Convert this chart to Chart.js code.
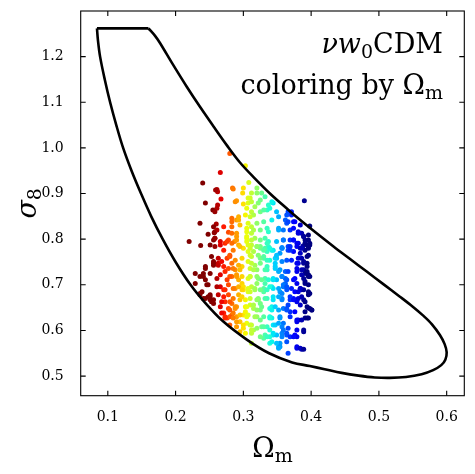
<!DOCTYPE html>
<html>
<head>
<meta charset="utf-8">
<script src="https://cdn.jsdelivr.net/npm/chart.js@4.4.1/dist/chart.umd.min.js"></script>
<style>
  html, body { margin: 0; padding: 0; background: #fff; }
  #wrap { width: 475px; height: 474px; position: relative; }
</style>
</head>
<body>
<div id="wrap"><canvas id="omegaChart"></canvas></div>
<script>
// samples
var omegaM = [
  0.280,0.303,0.266,0.240,0.261,0.262,0.308,0.300,0.284,0.312,
  0.267,0.244,0.290,0.300,0.305,0.262,0.261,0.255,0.258,0.312,
  0.303,0.293,0.315,0.236,0.260,0.256,0.271,0.283,0.290,0.295,
  0.283,0.307,0.312,0.248,0.258,0.278,0.290,0.305,0.312,0.220,
  0.258,0.266,0.278,0.273,0.287,0.293,0.237,0.251,0.258,0.305,
  0.312,0.320,0.327,0.332,0.310,0.307,0.322,0.317,0.325,0.335,
  0.339,0.344,0.390,0.366,0.371,0.352,0.342,0.362,0.364,0.374,
  0.398,0.320,0.330,0.325,0.337,0.352,0.369,0.381,0.386,0.396,
  0.317,0.332,0.359,0.374,0.391,0.325,0.337,0.357,0.366,0.379,
  0.388,
  0.229,0.241,0.244,0.256,0.263,0.261,0.276,0.283,0.278,0.288,
  0.290,0.293,0.283,0.266,0.271,0.278,0.288,0.298,0.236,0.248,
  0.253,0.263,0.278,0.293,0.300,0.273,0.283,0.295,0.303,0.278,
  0.288,0.303,0.310,0.283,0.290,0.300,0.305,0.295,0.312,0.312,
  0.300,0.307,0.307,0.312,
  0.315,0.325,0.335,0.344,0.357,0.369,0.384,0.396,0.330,0.339,
  0.349,0.371,0.381,0.394,0.317,0.335,0.347,0.362,0.379,0.389,
  0.320,0.332,0.344,0.357,0.364,0.376,0.391,0.317,0.330,0.342,
  0.352,0.359,0.371,0.384,0.396,0.322,0.335,0.344,0.357,0.374,
  0.384,0.398,0.315,0.327,0.342,0.359,0.369,0.320,0.339,0.354,
  0.379,0.327,0.344,0.359,0.332,0.344,0.357,0.376,0.364,0.379,
  0.386,0.339,
  0.396,0.398,0.391,0.396,0.389,0.394,0.391,0.396,0.391,0.396,
  0.386,0.398,0.389,0.394,0.401,0.391,0.396,0.389,0.352,0.366,
  0.315,0.330,0.248,0.239,0.251,0.256,0.271,0.276,0.285,
  0.285,0.299,0.320,0.259,0.288,0.307,0.312,0.325,0.337,0.342,
  0.330,0.349,0.364,0.371,0.366,0.376,0.374,0.384,0.310,0.293,
  0.283,0.261,0.305,0.315,0.335,0.352,0.359,0.389,0.391,0.396,
  0.381,0.369,0.349,0.337,0.325,0.312,0.305,0.290,0.283,0.256,
  0.271,0.285,0.295,0.310,0.320,0.332,0.342,0.354,0.366,0.374,
  0.384,0.386,0.394,0.381,0.364,0.357,0.347,0.335,0.325,0.312,
  0.307,0.298,0.288,0.280,0.263,0.253,0.244,0.256,0.271,0.285,
  0.298,0.310,0.320,0.335,0.354,0.366,0.379,0.386,0.398,0.374,
  0.362,0.349,0.337,0.322,0.310,0.298,0.280,0.266,0.251,0.236,
  0.229,0.246,0.261,0.273,0.300,0.307,0.317,0.330,0.344,0.354,
  0.364,0.376,0.389,0.396,0.381,0.369,0.357,0.344,0.332,0.322,
  0.310,0.298,0.285,0.271,0.251,0.236,0.244,0.256,0.266,0.290,
  0.315,0.325,0.339,0.352,0.364,0.376,0.391,0.381,0.369,0.354,
  0.342,0.330,0.317,0.305,0.295,0.280,0.273,0.280,0.290,0.300,
  0.310,0.320,0.335,0.347,0.357,0.366,0.379,0.379,0.364,0.349,
  0.339,0.325,0.312,0.303,0.295,0.342,0.354,
  0.257,0.258,0.266,0.276,0.283,0.290,0.241,0.244,0.256,0.263,
  0.268,0.280,0.293,0.295,0.290,0.273,0.276,0.285,0.293,0.298,
  0.241,0.251,0.268,0.280,0.280,0.288,0.268,0.273,0.285,0.290,
  0.300,0.305,0.307,0.303,0.310,0.307,0.312,0.320,0.325,0.320,
  0.325,0.330,0.335,0.339,0.344,0.339,0.342,0.347,0.352,0.359,
  0.357,0.349,0.354,0.352,0.364,0.369,0.374,0.379,0.384,0.389,
  0.379,0.386,0.394,0.389,0.369,0.374,0.379,0.386,0.391,0.396,
  0.401,0.364,0.366,0.352,0.357,0.335,0.339,0.332,0.325,0.327,
  0.320,0.310,0.315,0.312,0.325,0.330,0.332,0.347,0.352,0.344,
  0.357,0.362,0.359,0.364,0.379,0.384,0.381,0.379,0.389,0.386,
  0.394,0.396,0.389,0.379,0.386,0.394,0.398,0.389,0.381,0.369,
  0.374,0.359,0.357,0.349,0.347,0.335,0.339,0.330,0.320,0.322,
  0.310,0.305,0.307
];
var sigma8 = [
  0.988,0.961,0.946,0.923,0.909,0.904,0.924,0.912,0.912,0.901,
  0.888,0.879,0.884,0.877,0.868,0.875,0.868,0.864,0.860,0.860,
  0.853,0.849,0.853,0.835,0.833,0.827,0.827,0.838,0.842,0.831,
  0.827,0.835,0.827,0.811,0.816,0.815,0.813,0.816,0.813,0.795,
  0.802,0.795,0.798,0.791,0.795,0.787,0.786,0.787,0.784,0.795,
  0.787,0.912,0.901,0.893,0.890,0.879,0.879,0.871,0.860,0.864,
  0.868,0.879,0.884,0.860,0.853,0.849,0.842,0.842,0.835,0.838,
  0.829,0.835,0.838,0.820,0.816,0.820,0.820,0.816,0.813,0.809,
  0.802,0.802,0.798,0.798,0.798,0.784,0.784,0.782,0.784,0.784,
  0.785,
  0.725,0.718,0.736,0.751,0.747,0.714,0.758,0.747,0.736,0.733,
  0.722,0.711,0.718,0.696,0.689,0.700,0.692,0.703,0.678,0.674,
  0.663,0.678,0.678,0.678,0.689,0.663,0.659,0.667,0.667,0.648,
  0.648,0.652,0.656,0.634,0.630,0.634,0.616,0.619,0.612,0.572,
  0.780,0.773,0.714,0.696,
  0.773,0.780,0.773,0.776,0.780,0.784,0.780,0.784,0.758,0.754,
  0.758,0.754,0.758,0.762,0.743,0.740,0.736,0.729,0.736,0.733,
  0.718,0.714,0.714,0.718,0.711,0.714,0.707,0.692,0.692,0.696,
  0.692,0.696,0.692,0.692,0.685,0.670,0.670,0.674,0.670,0.670,
  0.656,0.648,0.656,0.652,0.652,0.648,0.641,0.630,0.630,0.630,
  0.619,0.608,0.612,0.616,0.590,0.590,0.594,0.590,0.575,0.561,
  0.559,0.572,
  0.798,0.787,0.776,0.765,0.747,0.740,0.725,0.722,0.703,0.700,
  0.689,0.681,0.667,0.652,0.645,0.627,0.627,0.597,0.564,0.550,
  0.601,0.583,0.700,0.685,0.678,0.667,0.638,0.627,0.638,
  0.910,0.901,0.901,0.908,0.882,0.890,0.882,0.886,0.875,0.882,
  0.864,0.860,0.853,0.860,0.838,0.838,0.824,0.831,0.849,0.842,
  0.846,0.820,0.824,0.820,0.824,0.824,0.820,0.806,0.791,0.780,
  0.791,0.798,0.795,0.795,0.798,0.798,0.802,0.798,0.791,0.798,
  0.776,0.776,0.784,0.780,0.784,0.780,0.776,0.769,0.776,0.773,
  0.769,0.758,0.747,0.747,0.754,0.751,0.758,0.754,0.758,0.762,
  0.751,0.758,0.754,0.765,0.758,0.762,0.740,0.743,0.740,0.736,
  0.740,0.736,0.733,0.733,0.733,0.729,0.729,0.722,0.718,0.711,
  0.714,0.711,0.711,0.714,0.718,0.718,0.718,0.722,0.725,0.718,
  0.703,0.700,0.696,0.689,0.696,0.685,0.689,0.685,0.692,0.685,
  0.689,0.685,0.689,0.678,0.670,0.667,0.667,0.667,0.670,0.667,
  0.670,0.674,0.670,0.674,0.674,0.681,0.670,0.659,0.652,0.652,
  0.648,0.645,0.648,0.645,0.648,0.641,0.641,0.623,0.630,0.627,
  0.627,0.630,0.630,0.630,0.634,0.630,0.627,0.612,0.608,0.605,
  0.612,0.605,0.608,0.612,0.608,0.605,0.601,0.586,0.590,0.590,
  0.586,0.586,0.594,0.594,0.597,0.575,0.572,
  0.814,0.802,0.787,0.795,0.813,0.806,0.725,0.711,0.747,0.743,
  0.751,0.762,0.743,0.733,0.718,0.729,0.711,0.692,0.696,0.689,
  0.670,0.667,0.663,0.663,0.645,0.652,0.638,0.630,0.627,0.619,
  0.612,0.652,0.634,0.641,0.685,0.692,0.601,0.667,0.659,0.645,
  0.623,0.608,0.586,0.601,0.594,0.627,0.645,0.652,0.616,0.601,
  0.586,0.572,0.564,0.561,0.594,0.586,0.586,0.564,0.561,0.559,
  0.623,0.623,0.627,0.601,0.674,0.667,0.663,0.674,0.663,0.649,
  0.645,0.645,0.656,0.674,0.681,0.689,0.696,0.703,0.689,0.711,
  0.703,0.718,0.733,0.747,0.747,0.762,0.733,0.740,0.729,0.711,
  0.718,0.703,0.700,0.696,0.703,0.692,0.685,0.747,0.751,0.733,
  0.729,0.718,0.714,0.791,0.780,0.787,0.791,0.806,0.813,0.776,
  0.798,0.798,0.780,0.765,0.747,0.791,0.780,0.776,0.784,0.765,
  0.765,0.806,0.787
];

// confidence contour: flat top edge, then the curved outline clockwise
var topEdgeOmegaM = [0.084, 0.160];
var topEdgeSigma8 = [1.262, 1.262];
var contourOmegaM = [
  0.160,0.170,0.177,0.196,0.2165,0.236,0.256,0.276,0.295,0.315,
  0.340,0.365,0.379,0.398,0.433,0.457,0.482,0.507,0.531,0.550,
  0.565,0.578,0.590,0.597,0.600,0.598,0.592,0.580,0.563,0.540,
  0.516,0.494,0.470,0.445,0.420,0.398,0.372,0.338,0.305,0.270,
  0.244,0.222,0.200,0.181,0.164,0.149,0.135,0.1226,0.1125,0.1034,
  0.0955,0.0886,0.0855,0.084
];
var contourSigma8 = [
  1.262,1.245,1.230,1.183,1.134,1.090,1.047,1.005,0.968,0.936,
  0.899,0.866,0.848,0.825,0.784,0.757,0.729,0.701,0.674,0.652,
  0.633,0.614,0.590,0.570,0.552,0.536,0.524,0.513,0.504,0.498,
  0.496,0.497,0.501,0.507,0.515,0.522,0.530,0.550,0.580,0.620,
  0.660,0.700,0.750,0.800,0.850,0.900,0.950,1.000,1.050,1.100,
  1.150,1.200,1.235,1.262
];

var xTicks = [0.1, 0.2, 0.3, 0.4, 0.5, 0.6];
var yTicks = [0.5, 0.6, 0.7, 0.8, 0.9, 1.0, 1.1, 1.2];

var colorMin = 0.255, colorMax = 0.392;

// matplotlib jet, reversed
function jetR(v) {
  var t = 1 - Math.min(1, Math.max(0, (v - colorMin) / (colorMax - colorMin)));
  function seg(pts) {
    for (var i = 1; i < pts.length; i++) {
      if (t <= pts[i][0]) {
        var a = pts[i - 1], b = pts[i];
        return a[1] + (b[1] - a[1]) * (t - a[0]) / (b[0] - a[0]);
      }
    }
    return pts[pts.length - 1][1];
  }
  var r = seg([[0,0],[0.35,0],[0.66,1],[0.89,1],[1,0.5]]);
  var g = seg([[0,0],[0.125,0],[0.375,1],[0.64,1],[0.91,0],[1,0]]);
  var b = seg([[0,0.5],[0.11,1],[0.34,1],[0.65,0],[1,0]]);
  return 'rgb(' + Math.round(r * 255) + ',' + Math.round(g * 255) + ',' + Math.round(b * 255) + ')';
}

function pairs(xs, ys) {
  return xs.map(function (v, i) { return { x: v, y: ys[i] }; });
}

var serif = "'DejaVu Serif', serif";

// frame, inward ticks, axis titles and the note in the corner
var decorations = {
  id: 'decorations',
  afterDraw: function (chart) {
    var ctx = chart.ctx, a = chart.chartArea;
    var xs = chart.scales.x, ys = chart.scales.y;
    ctx.save();
    ctx.strokeStyle = '#000';
    ctx.lineWidth = 1.1;
    ctx.strokeRect(a.left, a.top, a.right - a.left, a.bottom - a.top);
    ctx.beginPath();
    xTicks.forEach(function (v) {
      var p = xs.getPixelForValue(v);
      ctx.moveTo(p, a.bottom); ctx.lineTo(p, a.bottom - 5);
      ctx.moveTo(p, a.top); ctx.lineTo(p, a.top + 5);
    });
    yTicks.forEach(function (v) {
      var p = ys.getPixelForValue(v);
      ctx.moveTo(a.left, p); ctx.lineTo(a.left + 5, p);
      ctx.moveTo(a.right, p); ctx.lineTo(a.right - 5, p);
    });
    ctx.stroke();

    ctx.fillStyle = '#000';
    ctx.textBaseline = 'alphabetic';

    // x title: Omega_m
    var big = '27px ' + serif, sub = '19px ' + serif;
    ctx.font = big;
    var wO = ctx.measureText('\u03A9').width;
    ctx.font = sub;
    var wm = ctx.measureText('m').width;
    var x0 = (a.left + a.right) / 2 - (wO + wm) / 2;
    ctx.font = big;
    ctx.fillText('\u03A9', x0, 457);
    ctx.font = sub;
    ctx.fillText('m', x0 + wO, 462);

    // y title: sigma_8
    ctx.save();
    ctx.translate(36, (a.top + a.bottom) / 2);
    ctx.rotate(-Math.PI / 2);
    ctx.font = 'italic 27px ' + serif;
    var ws = ctx.measureText('\u03C3').width;
    ctx.font = sub;
    var w8 = ctx.measureText('8').width;
    ctx.font = 'italic 27px ' + serif;
    ctx.fillText('\u03C3', -(ws + w8) / 2, 0);
    ctx.font = sub;
    ctx.fillText('8', -(ws + w8) / 2 + ws, 5);
    ctx.restore();

    // note, right aligned
    var right = 443;
    function runs(parts, base) {
      var total = 0;
      parts.forEach(function (p) { ctx.font = p.f; p.w = ctx.measureText(p.t).width; total += p.w; });
      var cx = right - total;
      parts.forEach(function (p) {
        ctx.font = p.f;
        ctx.fillText(p.t, cx, base + (p.dy || 0));
        cx += p.w;
      });
    }
    var nf = '27px ' + serif, nfi = 'italic 27px ' + serif, ns = '19px ' + serif;
    runs([{ t: '\u03BD', f: nfi }, { t: 'w', f: nfi }, { t: '0', f: ns, dy: 5 }, { t: 'CDM', f: nf }], 53);
    runs([{ t: 'coloring by \u03A9', f: nf }, { t: 'm', f: ns, dy: 5 }], 94);
    ctx.restore();
  }
};

var ctx = document.getElementById('omegaChart');

new Chart(ctx, {
  type: 'scatter',
  data: {
    datasets: [
      {
        label: 'contour top',
        data: pairs(topEdgeOmegaM, topEdgeSigma8),
        showLine: true,
        borderColor: '#000',
        borderWidth: 2.6,
        pointRadius: 0,
        tension: 0
      },
      {
        label: 'contour',
        data: pairs(contourOmegaM, contourSigma8),
        showLine: true,
        borderColor: '#000',
        borderWidth: 2.6,
        pointRadius: 0,
        tension: 0.35
      },
      {
        label: 'samples',
        data: pairs(omegaM, sigma8),
        pointRadius: 2.5,
        pointBorderWidth: 0,
        pointBackgroundColor: omegaM.map(jetR),
        pointBorderColor: 'rgba(0,0,0,0)'
      }
    ]
  },
  options: {
    responsive: true,
    maintainAspectRatio: false,
    animation: false,
    layout: { padding: { top: 11, right: 10.7, left: 0, bottom: 0 } },
    plugins: { legend: { display: false }, tooltip: { enabled: false } },
    scales: {
      x: {
        type: 'linear',
        min: 0.06,
        max: 0.626,
        grid: { display: false },
        border: { display: false },
        afterBuildTicks: function (s) { s.ticks = xTicks.map(function (v) { return { value: v }; }); },
        afterFit: function (s) { s.height = 78.3; s.paddingLeft = 0; s.paddingRight = 0; },
        ticks: {
          color: '#000',
          padding: 5,
          maxRotation: 0,
          font: { family: serif, size: 14 },
          callback: function (v) { return v.toFixed(1); }
        }
      },
      y: {
        type: 'linear',
        min: 0.457,
        max: 1.30,
        grid: { display: false },
        border: { display: false },
        afterBuildTicks: function (s) { s.ticks = yTicks.map(function (v) { return { value: v }; }); },
        afterFit: function (s) { s.width = 80.7; s.paddingTop = 0; s.paddingBottom = 0; },
        ticks: {
          color: '#000',
          padding: 9,
          font: { family: serif, size: 14 },
          callback: function (v) { return v.toFixed(1); }
        }
      }
    }
  },
  plugins: [decorations]
});
</script>
</body>
</html>
